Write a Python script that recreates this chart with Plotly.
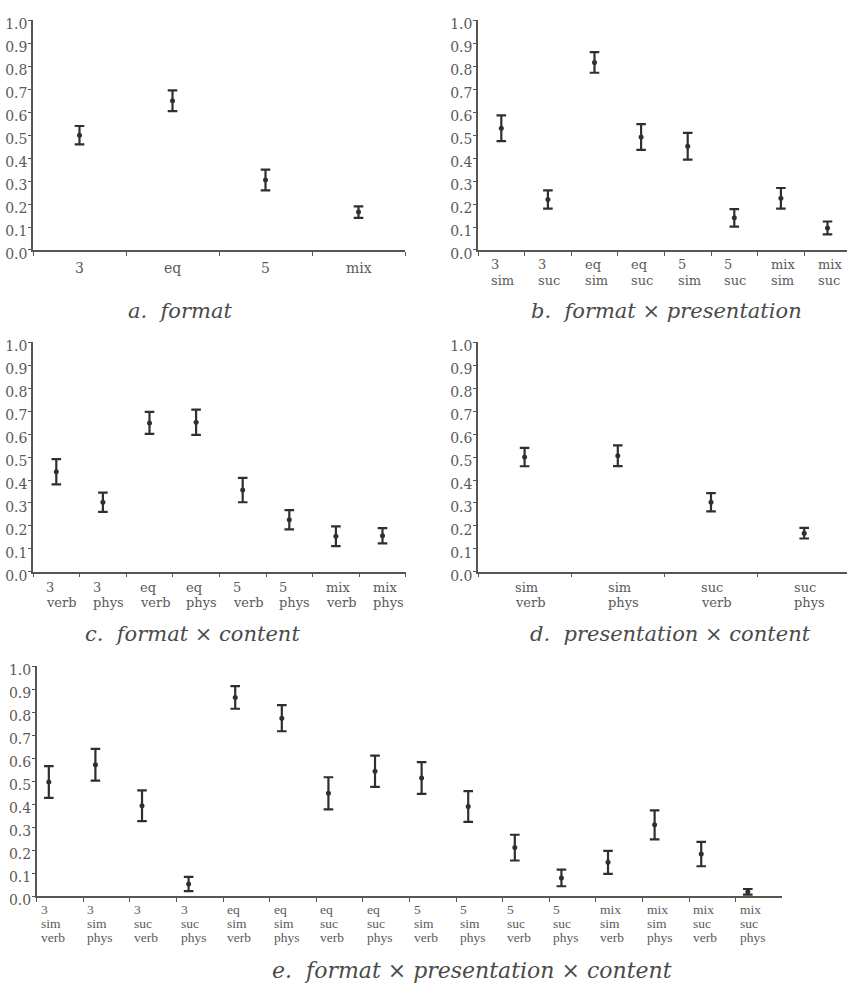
import plotly.graph_objects as go

W, H = 847, 996

# ---------------- data ----------------
a_labels = ["3", "eq", "5", "mix"]
a_mean = [0.50, 0.65, 0.305, 0.165]
a_err = [0.04, 0.045, 0.045, 0.025]

b_labels = ["3\nsim", "3\nsuc", "eq\nsim", "eq\nsuc", "5\nsim", "5\nsuc", "mix\nsim", "mix\nsuc"]
b_mean = [0.53, 0.22, 0.817, 0.492, 0.452, 0.14, 0.225, 0.096]
b_err = [0.056, 0.04, 0.045, 0.056, 0.058, 0.038, 0.045, 0.028]

c_labels = ["3\nverb", "3\nphys", "eq\nverb", "eq\nphys", "5\nverb", "5\nphys", "mix\nverb", "mix\nphys"]
c_mean = [0.436, 0.303, 0.649, 0.652, 0.356, 0.227, 0.155, 0.157]
c_err = [0.055, 0.042, 0.048, 0.055, 0.053, 0.042, 0.043, 0.033]

d_labels = ["sim\nverb", "sim\nphys", "suc\nverb", "suc\nphys"]
d_mean = [0.50, 0.506, 0.303, 0.168]
d_err = [0.04, 0.045, 0.04, 0.023]

e_labels = ["3\nsim\nverb", "3\nsim\nphys", "3\nsuc\nverb", "3\nsuc\nphys",
            "eq\nsim\nverb", "eq\nsim\nphys", "eq\nsuc\nverb", "eq\nsuc\nphys",
            "5\nsim\nverb", "5\nsim\nphys", "5\nsuc\nverb", "5\nsuc\nphys",
            "mix\nsim\nverb", "mix\nsim\nphys", "mix\nsuc\nverb", "mix\nsuc\nphys"]
e_mean = [0.496, 0.571, 0.393, 0.053, 0.864, 0.774, 0.447, 0.543,
          0.514, 0.39, 0.211, 0.079, 0.147, 0.31, 0.183, 0.019]
e_err = [0.069, 0.069, 0.067, 0.031, 0.049, 0.057, 0.07, 0.068,
         0.069, 0.067, 0.056, 0.036, 0.05, 0.063, 0.053, 0.012]

y_ticks = [0.0, 0.1, 0.2, 0.3, 0.4, 0.5, 0.6, 0.7, 0.8, 0.9, 1.0]
titles = ["a.  format", "b.  format \u00d7 presentation", "c.  format \u00d7 content",
          "d.  presentation \u00d7 content", "e.  format \u00d7 presentation \u00d7 content"]

# ---------------- style ----------------
INK = "#2e312b"
AXIS = "#555851"
TXT = "#5a5a5a"
SERIF = "DejaVu Serif"
SERIF2 = "Liberation Serif"

panels = [
    dict(key="", labels=a_labels, mean=a_mean, err=a_err, x0=33, x1=405, bw=93.0, y0=250, y1=16.7, off=0.5,
         lab_font=dict(family=SERIF, size=14, color=TXT), rows=[18], xs_shift=None,
         title=titles[0], tx=180, ty=312, tsize=21),
    dict(key="2", labels=b_labels, mean=b_mean, err=b_err, x0=478, x1=847, bw=46.6, y0=250, y1=16.7, off=0.5,
         lab_font=dict(family=SERIF, size=13, color=TXT), rows=[15, 30.5], xs_shift=-12,
         title=titles[1], tx=666, ty=312, tsize=21),
    dict(key="3", labels=c_labels, mean=c_mean, err=c_err, x0=33, x1=406, bw=46.6, y0=577, y1=344, off=0.5,
         lab_font=dict(family=SERIF, size=13, color=TXT), rows=[15.5, 31], xs_shift=-12,
         title=titles[2], tx=192, ty=640, tsize=21),
    dict(key="4", labels=d_labels, mean=d_mean, err=d_err, x0=478, x1=847, bw=93.2, y0=577, y1=344, off=0.5,
         lab_font=dict(family=SERIF, size=13, color=TXT), rows=[15.5, 31], xs_shift=-12,
         title=titles[3], tx=670, ty=640, tsize=21),
    dict(key="5", labels=e_labels, mean=e_mean, err=e_err, x0=36.7, x1=782, bw=46.6, y0=906.7, y1=673, off=0.26,
         lab_font=dict(family=SERIF2, size=13.5, color=TXT), rows=[13.5, 27.5, 41.5], xs_shift=-10,
         title=titles[4], tx=472, ty=982, tsize=22),
]

fig = go.Figure()
annotations = []
layout = {}

for p in panels:
    k = p["key"]
    n = len(p["labels"])
    xs = [i + p["off"] for i in range(n)]
    fig.add_trace(go.Scatter(
        x=xs, y=p["mean"], mode="markers",
        xaxis="x" + k, yaxis="y" + k,
        marker=dict(size=5, color=INK),
        error_y=dict(type="data", array=p["err"], visible=True, color=INK, thickness=2.2, width=4.8),
        showlegend=False, hoverinfo="skip",
    ))
    xr = (p["x1"] - p["x0"]) / p["bw"]
    layout["xaxis" + k] = dict(
        domain=[p["x0"] / W, p["x1"] / W], range=[0, xr], anchor="y" + k,
        tickvals=list(range(0, n + 1)), showticklabels=False,
        ticks="outside", ticklen=4, tickwidth=1.3, tickcolor=AXIS,
        showline=True, linecolor=AXIS, linewidth=1.5, showgrid=False, zeroline=False,
        fixedrange=True,
    )
    layout["yaxis" + k] = dict(
        domain=[1 - p["y0"] / H, 1 - p["y1"] / H], range=[0, 1], anchor="x" + k,
        tickvals=y_ticks, ticktext=["%.1f" % v for v in y_ticks],
        ticks="outside", ticklen=3, tickwidth=1.2, tickcolor=AXIS,
        ticklabelstandoff=-2, ticklabelshift=4,
        tickfont=dict(family=SERIF, size=14, color=TXT),
        showline=True, linecolor=AXIS, linewidth=1.5, showgrid=False, zeroline=False,
        fixedrange=True,
    )
    for i, lab in enumerate(p["labels"]):
        lines = lab.split("\n")
        for j, line in enumerate(lines):
            ann = dict(
                x=xs[i], y=0, xref="x" + k, yref="y" + k + " domain",
                text=line, showarrow=False, yanchor="middle",
                yshift=-p["rows"][j], font=p["lab_font"],
            )
            if p["xs_shift"] is None:
                ann["xanchor"] = "center"
            else:
                ann["xanchor"] = "left"
                ann["xshift"] = p["xs_shift"]
            annotations.append(ann)
    annotations.append(dict(
        x=p["tx"] / W, y=1 - p["ty"] / H, xref="paper", yref="paper",
        text="<i>" + p["title"] + "</i>", showarrow=False, xanchor="center", yanchor="middle",
        font=dict(family=SERIF, size=p["tsize"], color="#4a4a4a"),
    ))

layout["annotations"] = annotations
fig.update_layout(
    width=W, height=H, margin=dict(l=0, r=0, t=0, b=0),
    paper_bgcolor="white", plot_bgcolor="white",
    **layout,
)

fig.write_html("out.html")
